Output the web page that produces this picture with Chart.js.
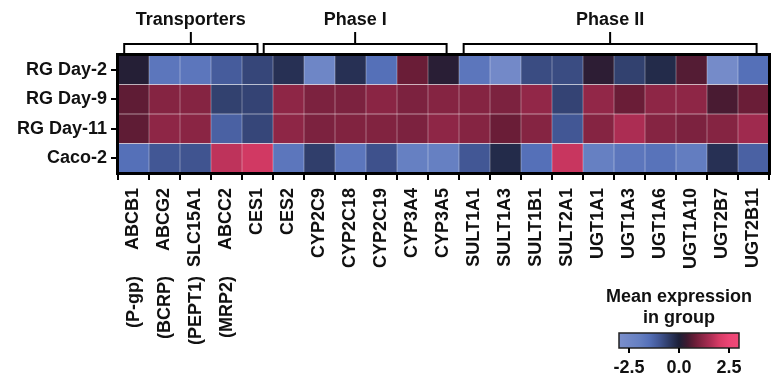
<!DOCTYPE html>
<html>
<head>
<meta charset="utf-8">
<script src="https://cdn.jsdelivr.net/npm/chart.js@4/dist/chart.umd.min.js"></script>
<style>
  html, body { margin: 0; padding: 0; background: #fff; }
  #wrap { width: 774px; height: 375px; }
</style>
</head>
<body>
<div id="wrap"><canvas id="heatmap" width="774" height="375"></canvas></div>
<script>
// genes (columns) and groups (rows)
const genes = ["ABCB1", "ABCG2", "SLC15A1", "ABCC2", "CES1", "CES2", "CYP2C9", "CYP2C18", "CYP2C19",
  "CYP3A4", "CYP3A5", "SULT1A1", "SULT1A3", "SULT1B1", "SULT2A1", "UGT1A1", "UGT1A3", "UGT1A6",
  "UGT1A10", "UGT2B7", "UGT2B11"];
const aliases = ["(P-gp)", "(BCRP)", "(PEPT1)", "(MRP2)"];
const groups = ["RG Day-2", "RG Day-9", "RG Day-11", "Caco-2"];

// mean expression (z-score) per group
const rgDay2 = [0.1, -1.7, -1.7, -1.1, -0.7, -0.3, -2.4, -0.3, -1.5, 0.8, 0.15, -1.7, -2.6, -0.8, -0.8, 0.2, -0.6, -0.2, 0.6, -2.7, -1.5];
const rgDay9 = [0.7, 1.1, 1.1, -0.6, -0.65, 1.2, 1.0, 1.0, 1.15, 1.0, 1.1, 1.1, 1.0, 1.25, -0.65, 1.25, 0.8, 1.2, 1.2, 0.5, 0.8];
const rgDay11 = [0.7, 1.2, 1.15, -1.2, -0.7, 1.2, 1.0, 1.05, 1.05, 1.0, 1.2, 1.1, 0.8, 1.1, -1.0, 1.1, 1.55, 1.1, 1.0, 1.1, 1.4];
const caco2 = [-1.5, -1.0, -0.95, 1.75, 1.95, -1.7, -0.55, -1.7, -0.9, -2.0, -2.0, -1.0, -0.2, -1.5, 1.85, -2.0, -1.7, -1.6, -1.9, -0.3, -1.2];
const rows = [rgDay2, rgDay9, rgDay11, caco2];

// gene families above the map: [label, first col, last col]
const families = [["Transporters", -0.3, 4], ["Phase I", 4.2, 10.1], ["Phase II", 10.65, 20.1]];

// colour bar
const cbTicks = [-2.5, 0, 2.5];
const cbMin = -3, cbMax = 3;
const cmap = [
  [-3.0, [123, 143, 204]],
  [-2.0, [102, 128, 194]],
  [-1.5, [85, 112, 184]],
  [-1.0, [66, 87, 149]],
  [-0.5, [46, 59, 102]],
  [0.0, [28, 32, 56]],
  [0.4, [62, 26, 48]],
  [0.8, [106, 29, 55]],
  [1.2, [142, 38, 70]],
  [1.6, [176, 46, 85]],
  [2.0, [214, 59, 101]],
  [2.5, [236, 69, 117]],
  [3.0, [240, 74, 120]]
];

function colorFor(v) {
  v = Math.max(cbMin, Math.min(cbMax, v));
  for (let i = 1; i < cmap.length; i++) {
    if (v <= cmap[i][0]) {
      const [v0, c0] = cmap[i - 1], [v1, c1] = cmap[i];
      const t = (v - v0) / (v1 - v0);
      const c = c0.map((a, k) => Math.round(a + (c1[k] - a) * t));
      return `rgb(${c[0]},${c[1]},${c[2]})`;
    }
  }
  return `rgb(${cmap[cmap.length - 1][1].join(",")})`;
}

const FONT = "'Liberation Sans', Arial, Helvetica, sans-serif";

const decorations = {
  id: "decorations",
  afterDraw(chart) {
    const ctx = chart.ctx;
    const x = chart.scales.x;
    const a = chart.chartArea;
    const colW = x.getPixelForValue(1) - x.getPixelForValue(0);
    ctx.save();

    // frame
    ctx.strokeStyle = "#000";
    ctx.lineWidth = 3;
    ctx.strokeRect(a.left - 0.5, a.top - 0.5, a.right - a.left + 1, a.bottom - a.top + 1);

    // aliases under transporter names
    ctx.fillStyle = "#111";
    ctx.font = "bold 18px " + FONT;
    ctx.textAlign = "right";
    ctx.textBaseline = "middle";
    aliases.forEach((s, i) => {
      ctx.save();
      ctx.translate(x.getPixelForValue(i) + 1, 276);
      ctx.rotate(-Math.PI / 2);
      ctx.fillText(s, 0, 0);
      ctx.restore();
    });

    // family brackets
    ctx.lineWidth = 2;
    ctx.font = "bold 18px " + FONT;
    ctx.textAlign = "center";
    ctx.textBaseline = "alphabetic";
    families.forEach(([label, c0, c1]) => {
      const x0 = x.getPixelForValue(0) + c0 * colW;
      const x1 = x.getPixelForValue(0) + c1 * colW;
      const mid = (x0 + x1) / 2;
      ctx.beginPath();
      ctx.moveTo(x0, a.top - 2);
      ctx.lineTo(x0, 44);
      ctx.lineTo(x1, 44);
      ctx.lineTo(x1, a.top - 2);
      ctx.moveTo(mid, 44);
      ctx.lineTo(mid, 32);
      ctx.stroke();
      ctx.fillText(label, mid, 25);
    });

    // colour bar
    const bx0 = 619, bx1 = 739, by0 = 333, by1 = 348;
    const grad = ctx.createLinearGradient(bx0, 0, bx1, 0);
    cmap.forEach(([v]) => grad.addColorStop((v - cbMin) / (cbMax - cbMin), colorFor(v)));
    ctx.fillStyle = grad;
    ctx.fillRect(bx0, by0, bx1 - bx0, by1 - by0);
    ctx.lineWidth = 1.5;
    ctx.strokeStyle = "#222";
    ctx.strokeRect(bx0, by0, bx1 - bx0, by1 - by0);
    ctx.fillStyle = "#111";
    ctx.font = "bold 18px " + FONT;
    ctx.fillText("Mean expression", 679, 302);
    ctx.fillText("in group", 679, 323);
    ctx.lineWidth = 2;
    ctx.strokeStyle = "#000";
    cbTicks.forEach(t => {
      const px = bx0 + (t - cbMin) / (cbMax - cbMin) * (bx1 - bx0);
      ctx.beginPath();
      ctx.moveTo(px, by1);
      ctx.lineTo(px, by1 + 5);
      ctx.stroke();
      ctx.fillText(t.toFixed(1), px, 373);
    });
    ctx.restore();
  }
};

new Chart(document.getElementById("heatmap"), {
  type: "bar",
  data: {
    labels: genes,
    datasets: rows.map((vals, r) => ({
      label: groups[r],
      data: vals.map(() => [r, r + 1]),
      backgroundColor: vals.map(colorFor),
      borderColor: "rgba(255,255,255,0.035)",
      borderWidth: 0.5,
      borderSkipped: false,
      barPercentage: 1,
      categoryPercentage: 1,
      grouped: false
    }))
  },
  options: {
    responsive: false,
    animation: false,
    layout: { padding: { top: 55, right: 5, left: 0, bottom: 0 } },
    plugins: { legend: { display: false }, tooltip: { enabled: false } },
    scales: {
      x: {
        afterFit: s => { s.height = 202; s.paddingLeft = 0; s.paddingRight = 0; },
        grid: { drawOnChartArea: false, drawTicks: true, tickLength: 7, color: "#000", lineWidth: 2 },
        border: { display: false },
        ticks: {
          color: "#111", minRotation: 90, maxRotation: 90, padding: 8,
          font: { family: FONT, size: 18, weight: "bold" }
        }
      },
      y: {
        min: 0, max: 4, reverse: true,
        afterFit: s => { s.width = 118; s.paddingTop = 0; s.paddingBottom = 0; },
        afterBuildTicks: s => { s.ticks = groups.map((g, i) => ({ value: i + 0.5 })); },
        grid: { drawOnChartArea: false, drawTicks: true, tickLength: 7, color: "#000", lineWidth: 2 },
        border: { display: false },
        ticks: {
          color: "#111", padding: 4,
          font: { family: FONT, size: 18, weight: "bold" },
          callback: (v) => groups[Math.floor(v)]
        }
      }
    }
  },
  plugins: [decorations]
});
</script>
</body>
</html>
